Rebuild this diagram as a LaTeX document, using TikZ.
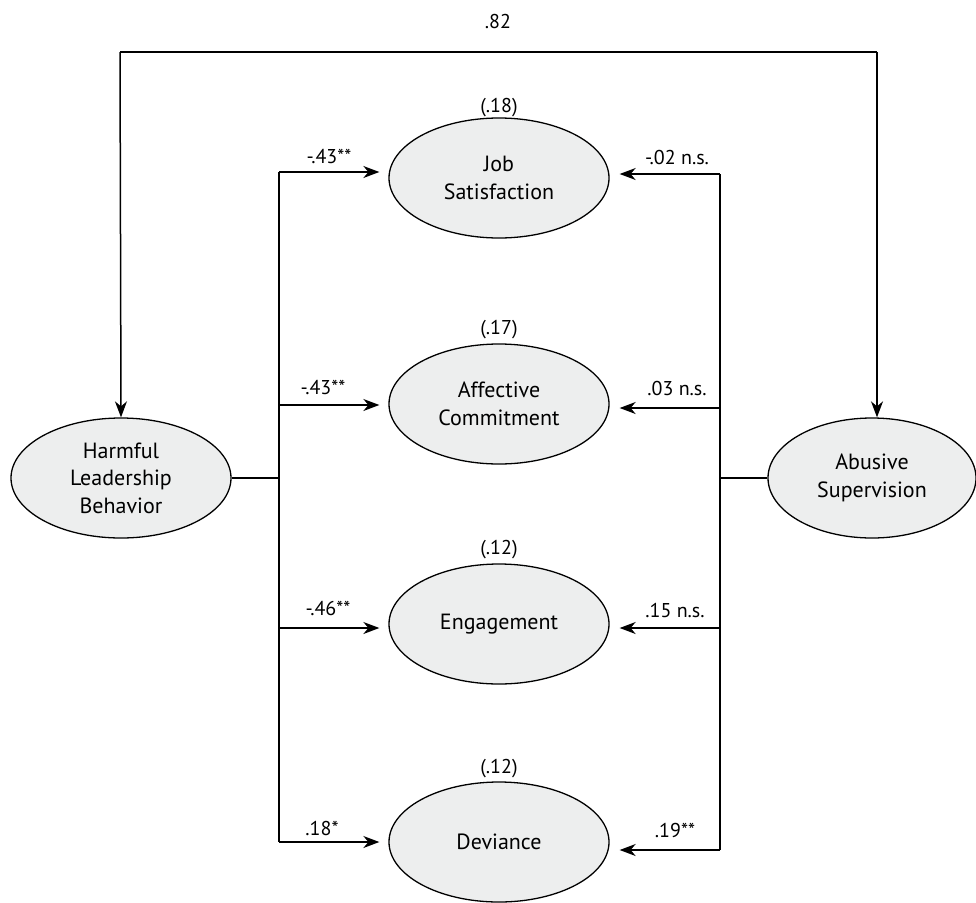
\documentclass[tikz,border=0pt]{standalone}
\usepackage{fontspec}
\setmainfont{PT Sans}
\usetikzlibrary{arrows.meta,shapes.geometric}
\definecolor{ellfill}{RGB}{237,238,238}
\tikzset{
  var/.style={ellipse, draw=black, line width=1.3pt, fill=ellfill, minimum width=220pt, minimum height=120pt, inner sep=0pt, align=center, font=\fontsize{22}{27.5}\selectfont},
  path/.style={line width=1.5pt},
  arr/.style={line width=1.5pt, -{Stealth[length=16pt,width=12pt,inset=5pt]}},
  coef/.style={font=\fontsize{20}{22}\selectfont, inner sep=0pt},
  rsq/.style={font=\fontsize{20}{22}\selectfont, inner sep=0pt}
}
\begin{document}
\begin{tikzpicture}[x=1pt,y=-1pt]
\useasboundingbox (0,0) rectangle (976,902);
% nodes
\node[var] (HLB) at (121,478) {Harmful\\Leadership\\Behavior};
\node[var, minimum width=208pt] (AS) at (872,478) {Abusive\\Supervision};
\node[var] (JS) at (499,178) {Job\\Satisfaction};
\node[var] (AC) at (499,404) {Affective\\Commitment};
\node[var] (EN) at (499,624) {Engagement};
\node[var] (DV) at (499,842) {Deviance};
% R squared
\node[rsq] (r1) at (499,108) {(.18)};
\node[rsq] (r2) at (499,330) {(.17)};
\node[rsq] (r3) at (499,550) {(.12)};
\node[rsq] (r4) at (499,769) {(.12)};
% top correlation
\coordinate (tl) at (120,52);
\coordinate (tr) at (877,52);
\draw[path] (tl) -- (tr);
\draw[arr] (tl) -- (HLB.north);
\draw[arr] (tr) -- (tr |- AS.north);
\node[coef] (c82) at (498,21) {.82};
% left bus
\coordinate (lmid) at (279,478);
\coordinate (l1) at (279,172);
\coordinate (l2) at (279,405);
\coordinate (l3) at (279,628);
\coordinate (l4) at (279,842);
\draw[path] (HLB.east) -- (lmid);
\draw[path] (l1) -- (l4);
\draw[arr, shorten >=9pt] (l1) -- (l1 -| JS.west);
\draw[arr, shorten >=9pt] (l2) -- (l2 -| AC.west);
\draw[arr, shorten >=9pt] (l3) -- (l3 -| EN.west);
\draw[arr, shorten >=9pt] (l4) -- (l4 -| DV.west);
\node[coef] (a1) at (329,156) {-.43**};
\node[coef] (a2) at (323,387) {-.43**};
\node[coef] (a3) at (328,608) {-.46**};
\node[coef] (a4) at (322,828) {.18*};
% right bus
\coordinate (rmid) at (720,478);
\coordinate (r1c) at (720,174);
\coordinate (r2c) at (720,408);
\coordinate (r3c) at (720,628);
\coordinate (r4c) at (720,850);
\draw[path] (AS.west) -- (rmid);
\draw[path] (r1c) -- (r4c);
\draw[arr, shorten >=10pt] (r1c) -- (r1c -| JS.east);
\draw[arr, shorten >=10pt] (r2c) -- (r2c -| AC.east);
\draw[arr, shorten >=10pt] (r3c) -- (r3c -| EN.east);
\draw[arr, shorten >=10pt] (r4c) -- (r4c -| DV.east);
\node[coef] (b1) at (677,157) {-.02 n.s.};
\node[coef] (b2) at (677,388) {.03 n.s.};
\node[coef] (b3) at (675,610) {.15 n.s.};
\node[coef] (b4) at (675,830) {.19**};
\end{tikzpicture}
\end{document}
